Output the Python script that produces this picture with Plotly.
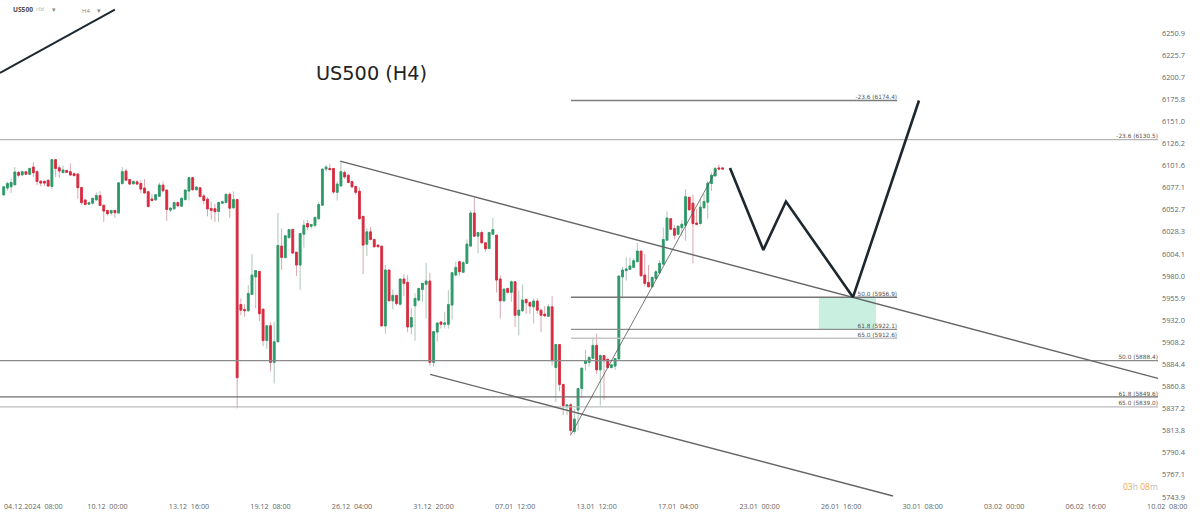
import numpy as np
import plotly.graph_objects as go

# H4 candles
opens = [6069.0,6076.6,6078.1,6080.2,6094.0,6091.1,6094.8,6091.9,6099.9,6094.8,
         6084.2,6084.2,6085.3,6078.4,6108.2,6099.1,6093.7,6096.2,6094.8,6092.6,
         6092.2,6077.3,6063.5,6058.8,6059.9,6063.5,6068.3,6057.7,6051.9,6049.0,
         6051.9,6049.0,6081.7,6095.5,6086.1,6081.3,6083.5,6081.7,6076.6,6072.6,
         6064.6,6063.5,6067.5,6079.9,6074.4,6052.3,6053.7,6060.6,6056.6,6063.9,
         6073.3,6088.2,6074.8,6077.0,6067.9,6064.3,6054.1,6053.7,6050.8,6059.9,
         6060.6,6069.7,6054.8,6063.9,5949.0,5943.6,5942.2,5960.0,5979.0,5985.0,
         5944.0,5910.0,5926.0,5886.6,5908.7,6012.7,6000.0,6022.0,6031.0,6006.0,
         5992.0,6025.7,6037.4,6034.5,6035.5,6042.8,6057.7,6097.7,6098.4,6098.4,
         6071.9,6079.0,6094.0,6090.8,6083.9,6078.4,6073.0,6045.4,6014.8,6028.3,
         6020.0,6013.8,6012.6,5925.8,5986.5,5953.0,5958.9,5949.4,5976.7,5973.0,
         5924.7,5947.6,5953.8,5965.4,5970.9,5974.5,5886.6,5919.3,5930.2,5927.6,
         5927.6,5948.4,5981.0,5995.6,5984.0,5993.8,6012.7,6049.0,6023.6,6027.6,
         6016.3,6010.0,6025.7,6024.7,5976.7,5953.0,5966.5,5962.2,5973.8,5937.4,
         5942.2,5954.5,5951.3,5946.5,5952.7,5942.9,5938.5,5936.3,5946.5,5881.1,
         5905.8,5863.0,5839.4,5841.2,5812.8,5835.7,5858.6,5885.5,5886.6,5891.0,
         5904.8,5878.6,5893.9,5890.0,5881.0,5882.6,5890.2,5979.0,5985.8,5987.2,
         5989.4,5995.6,6007.2,5981.0,5973.0,5968.3,5977.4,5983.6,5993.0,6019.2,
         6042.8,6031.9,6025.7,6033.0,6035.5,6066.4,6059.9,6038.0,6037.4,6054.8,
         6061.0,6081.7,6090.0,6099.0,6099.0]
highs = [6078.1,6083.9,6087.5,6099.9,6095.5,6095.5,6095.5,6099.1,6105.3,6096.2,
         6085.3,6084.2,6086.4,6108.2,6108.2,6102.0,6101.7,6096.2,6103.9,6093.7,
         6092.2,6077.3,6063.5,6061.7,6065.3,6071.9,6073.0,6057.7,6051.9,6051.9,
         6051.9,6082.4,6099.9,6098.0,6086.1,6085.3,6085.3,6085.3,6086.4,6073.7,
         6070.1,6070.1,6082.8,6083.9,6074.4,6055.5,6061.7,6061.7,6066.4,6075.2,
         6088.2,6088.2,6078.4,6077.3,6070.1,6066.4,6061.7,6059.2,6061.7,6062.8,
         6070.8,6071.9,6073.0,6063.9,5955.6,5949.4,5970.1,6004.0,5986.0,5985.0,
         5944.0,5926.0,5930.0,5930.0,6049.3,6032.0,6025.0,6031.0,6031.0,6006.0,
         6026.5,6041.7,6041.7,6036.3,6045.4,6061.0,6097.7,6102.0,6103.5,6098.4,
         6083.9,6105.3,6096.0,6092.6,6083.9,6079.0,6077.3,6045.4,6032.0,6033.7,
         6020.0,6014.5,6013.0,5992.0,5987.0,5965.4,5958.9,5977.4,5982.0,5981.0,
         5945.0,5961.0,5966.5,5972.7,5994.5,5983.6,5919.7,5930.0,5930.2,5941.0,
         5964.7,5983.6,5995.6,5996.7,5996.3,6019.9,6051.5,6065.7,6027.6,6030.0,
         6016.3,6027.6,6043.9,6025.3,5981.0,5965.8,5966.5,5975.0,5973.8,5964.0,
         5970.9,5955.6,5952.0,5955.6,5955.6,5943.6,5947.3,5949.4,5958.0,5905.8,
         5905.8,5863.0,5841.2,5843.0,5837.0,5859.3,5880.4,5900.0,5892.0,5912.0,
         5917.5,5895.0,5893.9,5890.0,5884.0,5890.6,5980.0,5990.0,6000.3,6000.3,
         5999.2,6016.3,6007.2,6004.0,5992.0,5979.2,5986.5,5997.4,6033.0,6050.8,
         6042.8,6035.5,6035.5,6041.0,6075.5,6066.4,6069.3,6053.7,6064.6,6070.0,
         6084.6,6093.7,6100.0,6102.8,6099.9]
lows = [6069.0,6073.7,6071.2,6080.2,6089.0,6091.1,6091.5,6091.1,6089.0,6079.9,
        6078.4,6079.1,6078.4,6075.5,6089.0,6088.2,6093.3,6093.3,6090.4,6089.7,
        6064.6,6058.4,6058.1,6058.4,6058.4,6062.8,6057.4,6039.2,6046.5,6046.5,
        6043.9,6049.0,6080.2,6085.3,6080.6,6081.0,6080.6,6070.8,6070.1,6054.8,
        6062.1,6062.8,6067.2,6071.9,6040.3,6050.1,6052.6,6055.5,6056.3,6062.8,
        6062.8,6073.7,6073.7,6066.4,6058.4,6045.4,6041.7,6039.2,6039.2,6059.2,
        6059.9,6043.9,6053.7,5837.5,5937.5,5935.6,5941.4,5960.0,5945.0,5931.0,
        5904.0,5901.0,5877.0,5864.0,5908.7,5986.5,6000.0,6021.0,6005.0,5980.0,
        5964.7,6011.0,6030.0,6032.0,6033.0,6041.7,6057.0,6094.8,6097.0,6070.0,
        6062.8,6078.0,6086.8,6082.4,6076.6,6069.0,6041.7,5982.0,6002.0,6019.0,
        6011.0,6011.0,5925.8,5917.5,5953.0,5943.6,5948.0,5948.0,5958.0,5919.0,
        5916.7,5910.0,5952.0,5952.0,5933.8,5883.0,5881.9,5909.0,5923.0,5923.0,
        5923.0,5932.7,5980.3,5980.3,5984.0,5993.0,6012.0,6023.0,6004.7,6015.6,
        6006.5,6010.0,6025.7,5962.0,5933.8,5952.0,5961.0,5952.0,5924.7,5915.6,
        5941.0,5939.0,5939.0,5928.4,5939.0,5919.3,5935.6,5935.6,5883.0,5844.0,
        5855.7,5830.3,5830.3,5808.5,5810.0,5814.0,5848.4,5877.5,5882.0,5890.0,
        5874.0,5840.4,5846.6,5880.4,5880.0,5878.6,5890.2,5955.6,5975.0,5986.5,
        5988.3,5995.6,5979.0,5969.0,5967.6,5967.6,5975.6,5982.9,5992.0,6018.5,
        6030.0,6020.0,6024.7,6023.6,6018.5,6051.9,5993.8,6035.5,6036.6,6053.7,
        6042.8,6073.7,6090.0,6097.0,6096.9]
closes = [6078.1,6081.7,6082.8,6094.4,6090.8,6094.8,6091.9,6098.4,6093.7,6083.9,
          6082.1,6082.1,6078.8,6108.2,6098.4,6095.5,6096.6,6094.0,6091.1,6090.4,
          6077.0,6060.6,6058.4,6060.3,6065.3,6068.3,6057.4,6051.2,6048.3,6051.9,
          6049.4,6082.4,6094.8,6085.3,6081.0,6083.9,6081.0,6075.5,6071.2,6056.3,
          6062.8,6069.3,6079.9,6073.7,6053.0,6054.4,6060.6,6057.0,6065.3,6074.4,
          6088.2,6074.8,6077.7,6067.2,6062.8,6053.7,6051.9,6050.5,6060.6,6061.4,
          6069.7,6054.4,6063.9,5870.2,5942.9,5942.2,5961.0,5981.0,5986.0,5939.0,
          5910.0,5926.0,5886.6,5908.7,6013.4,6000.3,6024.0,6030.8,6005.0,5992.0,
          6026.5,6035.5,6033.7,6036.3,6044.0,6058.4,6097.7,6099.9,6097.0,6072.2,
          6081.0,6094.8,6089.0,6082.8,6078.0,6071.9,6042.8,6013.8,6028.3,6020.0,
          6012.0,6012.0,5925.8,5986.5,5953.0,5958.9,5950.0,5976.7,5972.0,5924.7,
          5934.9,5955.6,5966.5,5972.0,5974.5,5886.6,5919.7,5929.0,5927.6,5929.0,
          5949.0,5983.6,5989.4,5984.7,5994.5,6014.8,6049.0,6023.6,6027.6,6016.3,
          6009.8,6027.6,6030.8,5975.6,5953.0,5965.8,5962.2,5973.8,5937.4,5942.9,
          5953.8,5950.9,5947.3,5952.7,5942.9,5937.4,5936.7,5946.5,5888.4,5905.8,
          5863.0,5840.4,5841.2,5814.0,5826.0,5858.6,5880.4,5888.4,5892.0,5904.8,
          5878.6,5893.9,5888.4,5881.0,5884.0,5890.6,5980.0,5986.5,5987.6,5990.9,
          5996.7,6007.2,5980.3,5972.0,5968.3,5978.5,5984.7,5993.8,6019.9,6043.5,
          6031.2,6024.7,6034.5,6036.6,6067.0,6052.6,6037.4,6036.6,6055.5,6061.7,
          6082.0,6090.8,6098.4,6097.7,6097.7]
bars = list(range(len(opens)))

# axis labels
price_ticks = [6250.9,6225.7,6200.7,6175.8,6151.0,6126.2,6101.6,6077.1,6052.7,6028.3,6004.1,
               5980.0,5955.9,5932.0,5908.2,5884.4,5860.8,5837.2,5813.8,5790.4,5767.1,5743.9]
date_ticks = [8,28,50,72,94,116,138,160,182,204,226,248,270,292,314]
date_labels = ["04.12.2024  08:00","10.12  00:00","13.12  16:00","19.12  08:00","26.12  04:00",
               "31.12  20:00","07.01  12:00","13.01  12:00","17.01  04:00","23.01  00:00",
               "26.01  16:00","30.01  08:00","03.02  00:00","06.02  16:00","10.02  08:00"]

# fibonacci levels: long ones across the chart, short ones from the last swing
long_levels = [6130.5,5888.4,5849.6,5839.0]
long_labels = ["-23.6 (6130.5)","50.0 (5888.4)","61.8 (5849.6)","65.0 (5839.0)"]
long_colors = ["#b4b4b4","#8a8a8a","#707070","#bcbcbc"]
short_levels = [6174.4,5956.9,5922.1,5912.6]
short_labels = ["-23.6 (6174.4)","50.0 (5956.9)","61.8 (5922.1)","65.0 (5912.6)"]
short_colors = ["#7c7c7c","#747474","#8e8e8e","#c6c6c6"]
long_x = [-1,311.5]
short_x = [153.1,241.1]

# drawings
channel_top_x = [90.8,311.5]
channel_top_y = [6106.6,5869.4]
channel_bottom_x = [115.1,240.0]
channel_bottom_y = [5873.7,5745.0]
swing_x = [153.1,192.3]
swing_y = [5809.8,6096.6]
path_x = [196.0,205.0,211.1,229.2,247.0]
path_y = [6099.0,6008.5,6061.7,5957.0,6174.4]
corner_x = [-1,30]
corner_y = [6205.5,6277.6]
zone_x = [220.0,235.4,235.4,220.0,220.0]
zone_y = [5956.9,5956.9,5922.1,5922.1,5956.9]

fig = go.Figure()

# pale wicks first, then the solid bodies over them
fig.add_trace(go.Candlestick(
    x=bars, open=opens, high=highs, low=lows, close=closes,
    increasing=dict(line=dict(color="rgba(90,140,112,0.55)", width=0.9), fillcolor="rgba(0,0,0,0)"),
    decreasing=dict(line=dict(color="rgba(190,105,118,0.65)", width=0.9), fillcolor="rgba(0,0,0,0)"),
    whiskerwidth=0, hoverinfo="skip", showlegend=False
))
fig.add_trace(go.Candlestick(
    x=bars, open=opens, close=closes,
    high=np.maximum(opens, closes), low=np.minimum(opens, closes),
    increasing=dict(line=dict(color="#2b9a68", width=0.8), fillcolor="#2b9a68"),
    decreasing=dict(line=dict(color="#d92a3e", width=0.8), fillcolor="#d92a3e"),
    whiskerwidth=0, hoverinfo="skip", showlegend=False
))

fig.add_trace(go.Scatter(x=zone_x, y=zone_y, mode="lines", fill="toself", fillcolor="#c9efe1",
                         line=dict(width=0), hoverinfo="skip", showlegend=False))

for level, label, color in zip(long_levels, long_labels, long_colors):
    fig.add_trace(go.Scatter(x=long_x, y=[level, level], mode="lines+text", text=["", label],
                             textposition="top left", textfont=dict(family="DejaVu Sans", size=5.8, color="#555555"),
                             line=dict(color=color, width=1.3), hoverinfo="skip", showlegend=False))
for level, label, color in zip(short_levels, short_labels, short_colors):
    fig.add_trace(go.Scatter(x=short_x, y=[level, level], mode="lines+text", text=["", label],
                             textposition="top left", textfont=dict(family="DejaVu Sans", size=5.8, color="#555555"),
                             line=dict(color=color, width=1.4), hoverinfo="skip", showlegend=False))

fig.add_trace(go.Scatter(x=channel_top_x, y=channel_top_y, mode="lines",
                         line=dict(color="#666666", width=1.4), hoverinfo="skip", showlegend=False))
fig.add_trace(go.Scatter(x=channel_bottom_x, y=channel_bottom_y, mode="lines",
                         line=dict(color="#666666", width=1.4), hoverinfo="skip", showlegend=False))
fig.add_trace(go.Scatter(x=swing_x, y=swing_y, mode="lines",
                         line=dict(color="#555555", width=0.8), hoverinfo="skip", showlegend=False))
fig.add_trace(go.Scatter(x=path_x, y=path_y, mode="lines",
                         line=dict(color="#1d2730", width=2.6), hoverinfo="skip", showlegend=False))
fig.add_trace(go.Scatter(x=corner_x, y=corner_y, mode="lines",
                         line=dict(color="#1d2730", width=2), hoverinfo="skip", showlegend=False))

fig.update_layout(
    width=1200,
    height=513,
    margin=dict(l=0, r=12, t=0, b=0),
    paper_bgcolor="white",
    plot_bgcolor="white",
    font=dict(family="Open Sans", color="#555555"),
    showlegend=False,
    xaxis=dict(
        range=[-1, 319.6],
        rangeslider=dict(visible=False),
        showgrid=False,
        zeroline=False,
        showline=False,
        ticks="",
        tickmode="array",
        tickvals=date_ticks,
        ticktext=date_labels,
        ticklabelposition="inside",
        ticklabeloverflow="allow",
        tickangle=0,
        tickfont=dict(size=7.2, color="#666666")
    ),
    yaxis=dict(
        type="log",
        side="right",
        range=[3.75794, 3.79855],
        showgrid=False,
        zeroline=False,
        showline=False,
        ticks="",
        tickmode="array",
        tickvals=price_ticks,
        ticktext=[f"{p:.1f}" for p in price_ticks],
        ticklabelposition="inside",
        ticklabeloverflow="allow",
        tickfont=dict(size=7.4, color="#666666")
    ),
    annotations=[
        dict(xref="paper", yref="paper", x=371.5/1188, y=1-73/513, text="US500 (H4)", showarrow=False,
             xanchor="center", yanchor="middle", font=dict(family="DejaVu Sans", size=19.3, color="#222222")),
        dict(xref="paper", yref="paper", x=11/1188, y=1-9/513, text="<b>US500</b>", showarrow=False,
             xanchor="left", yanchor="middle", font=dict(size=6.6, color="#4a4a4a")),
        dict(xref="paper", yref="paper", x=34/1188, y=1-9/513, text="cfd", showarrow=False,
             xanchor="left", yanchor="middle", font=dict(size=5.5, color="#aaaaaa")),
        dict(xref="paper", yref="paper", x=50/1188, y=1-9/513, text="▾", showarrow=False,
             xanchor="left", yanchor="middle", font=dict(size=7, color="#888888")),
        dict(xref="paper", yref="paper", x=80/1188, y=1-11/513, text="H4", showarrow=False,
             xanchor="left", yanchor="middle", font=dict(size=6, color="#888888")),
        dict(xref="paper", yref="paper", x=95/1188, y=1-10/513, text="▾", showarrow=False,
             xanchor="left", yanchor="middle", font=dict(size=7, color="#888888")),
        dict(xref="paper", yref="paper", x=1160/1188, y=1-486/513,
             text='<span style="color:#f3a64c">03</span><span style="color:#bbbbbb">h</span> '
                  '<span style="color:#f3a64c">08</span><span style="color:#bbbbbb">m</span>',
             showarrow=False, xanchor="right", yanchor="middle", font=dict(size=8.5)),
    ]
)

# the page's default body margin would push the chart 8px in
fig.write_html("out.html", config=dict(displayModeBar=False), post_script="document.body.style.margin='0';")
